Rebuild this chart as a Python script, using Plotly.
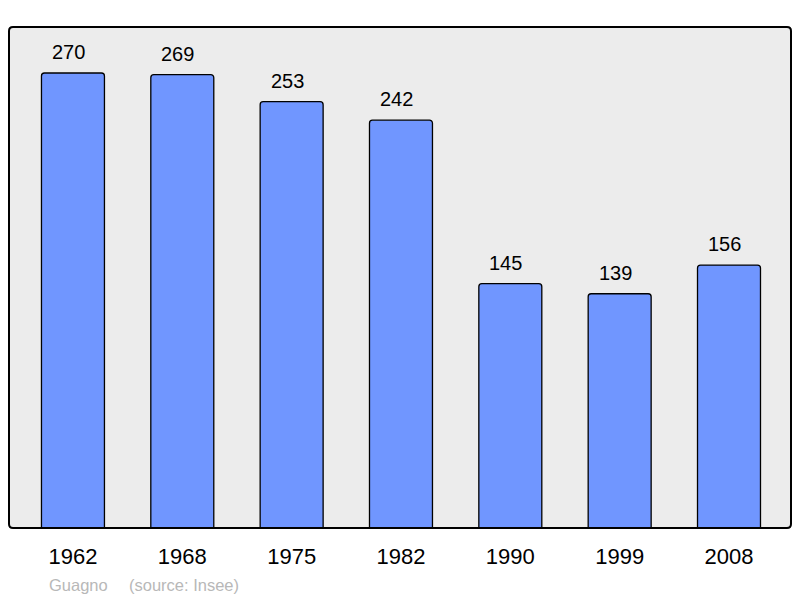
import plotly.graph_objects as go

years = ["1962", "1968", "1975", "1982", "1990", "1999", "2008"]
population = [270, 269, 253, 242, 145, 139, 156]
place = "Guagno"
source = "(source: Insee)"

xpos = list(range(len(years)))

W, H = 792, 590  # page body has an 8px margin
L, R, T, B = 1, 9, 19, 70
PW, PH = W - L - R, H - T - B

FONT = "Liberation Sans, Arial"

fig = go.Figure()
fig.add_trace(go.Bar(
    x=xpos, y=population, width=0.576,
    marker=dict(color="#7096ff", line=dict(color="#000000", width=1.3), cornerradius=3),
    hoverinfo="skip",
))

for xi, v in zip(xpos, population):
    fig.add_annotation(x=xi, y=v, text=str(v), showarrow=False, yanchor="bottom",
                       yshift=8, xshift=-4.5, font=dict(family=FONT, size=20, color="#000"))

# rounded plot frame
rx = 4 / PW
ry = 4 / PH
path = (f"M {rx},0 L {1-rx},0 Q 1,0 1,{ry} L 1,{1-ry} Q 1,1 {1-rx},1 "
        f"L {rx},1 Q 0,1 0,{1-ry} L 0,{ry} Q 0,0 {rx},0 Z")
fig.add_shape(type="path", path=path, xref="paper", yref="paper",
              fillcolor="#ececec", line=dict(width=0), layer="below")
fig.add_shape(type="path", path=path, xref="paper", yref="paper",
              fillcolor="rgba(0,0,0,0)", line=dict(color="#000", width=2), layer="above")

foot_y = -(577 - (T + PH)) / PH
fig.add_annotation(text=place, xref="paper", yref="paper",
                   x=(38.5 - L) / PW, y=foot_y, xanchor="left", yanchor="middle",
                   showarrow=False, font=dict(family=FONT, size=16.5, color="#b8b8b8"))
fig.add_annotation(text=source, xref="paper", yref="paper",
                   x=(118.5 - L) / PW, y=foot_y, xanchor="left", yanchor="middle",
                   showarrow=False, font=dict(family=FONT, size=16.5, color="#b8b8b8"))

fig.update_layout(
    width=W, height=H,
    margin=dict(l=L, r=R, t=T, b=B),
    paper_bgcolor="white", plot_bgcolor="rgba(0,0,0,0)",
    showlegend=False,
    xaxis=dict(range=[-0.585, 6.567], tickmode="array", tickvals=xpos, ticktext=years,
               showgrid=False, zeroline=False, showline=False, ticks="",
               ticklabelstandoff=13,
               tickfont=dict(family=FONT, size=22, color="#000")),
    yaxis=dict(range=[0, 297.3], showgrid=False, zeroline=False, showline=False,
               showticklabels=False, ticks=""),
)

fig.write_html("out.html")
